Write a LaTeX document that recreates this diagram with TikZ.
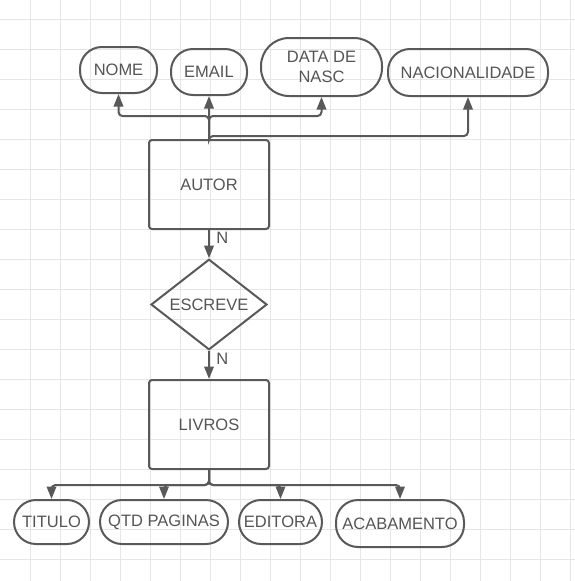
\documentclass[tikz,border=0pt]{standalone}
\usepackage{fontspec}
\setmainfont{Liberation Sans}
\usetikzlibrary{shapes.geometric, arrows.meta}
\definecolor{lineg}{HTML}{595959}
\definecolor{textg}{HTML}{555555}
\definecolor{gridg}{HTML}{E6E6E6}
\tikzset{
  entity/.style={draw=lineg, line width=2pt, rounded corners=3pt, minimum width=120pt, minimum height=89pt, inner sep=0pt, text=textg},
  relation/.style={diamond, draw=lineg, line width=2pt, minimum width=116pt, minimum height=87pt, inner sep=0pt, text=textg},
  attr/.style={draw=lineg, line width=2pt, rounded corners=22pt, minimum height=46pt, inner sep=0pt, text=textg, align=center},
  conn/.style={draw=lineg, line width=2pt, rounded corners=4pt, -{Triangle[length=12.5pt, width=9.5pt]}},
  gridline/.style={draw=gridg, line width=1pt},
}
\begin{document}
\begin{tikzpicture}[x=1pt, y=-1pt, font=\fontsize{16.5}{19}\selectfont]
\fill[white] (0,0) rectangle (575,581);
\useasboundingbox (0,0) rectangle (575,581);
\foreach \gx in {30,60,...,570} \draw[gridline] (\gx,0) -- (\gx,581);
\foreach \gy in {19,49,...,579} \draw[gridline] (0,\gy) -- (575,\gy);

\node[entity] (autor) at (209,184.5) {AUTOR};
\node[relation] (escreve) at (209,304.5) {ESCREVE};
\node[entity] (livros) at (209,424.5) {LIVROS};

\node[attr, minimum width=77pt] (nome) at (118.5,70) {NOME};
\node[attr, minimum width=76pt] (email) at (209,72) {EMAIL};
\node[attr, minimum width=121pt, minimum height=58pt, rounded corners=28pt] (datanasc) at (321.5,67) {DATA DE\\[1pt]NASC};
\node[attr, minimum width=160pt, minimum height=47pt] (nacionalidade) at (468,72.5) {NACIONALIDADE};

\node[attr, minimum width=75pt, minimum height=44pt] (titulo) at (51.5,522) {TITULO};
\node[attr, minimum width=128pt, minimum height=44pt] (qtdpaginas) at (164,522) {QTD PAGINAS};
\node[attr, minimum width=83pt, minimum height=44pt] (editora) at (280.5,522) {EDITORA};
\node[attr, minimum width=128pt, minimum height=47pt] (acabamento) at (400,523.5) {ACABAMENTO};

\draw[conn] (autor.north) -- (email.south);
\draw[conn] (autor.north) -- ++(0,-23) -| (nome.south);
\draw[conn] (autor.north) -- ++(0,-23) -| (datanasc.south);
\draw[conn] (autor.north) -- ++(0,-3) -| (nacionalidade.south);

\draw[conn] (autor.south) -- (escreve.north) node[pos=0.3, right, xshift=3pt, yshift=1pt, text=textg] (n1) {N};
\draw[conn] (escreve.south) -- (livros.north) node[pos=0.3, right, xshift=3pt, text=textg] (n2) {N};

\draw[conn] (livros.south) -- ++(0,15) -| (titulo.north);
\draw[conn] (livros.south) -- ++(0,15) -| (qtdpaginas.north);
\draw[conn] (livros.south) -- ++(0,15) -| (editora.north);
\draw[conn] (livros.south) -- ++(0,15) -| (acabamento.north);
\end{tikzpicture}
\end{document}
